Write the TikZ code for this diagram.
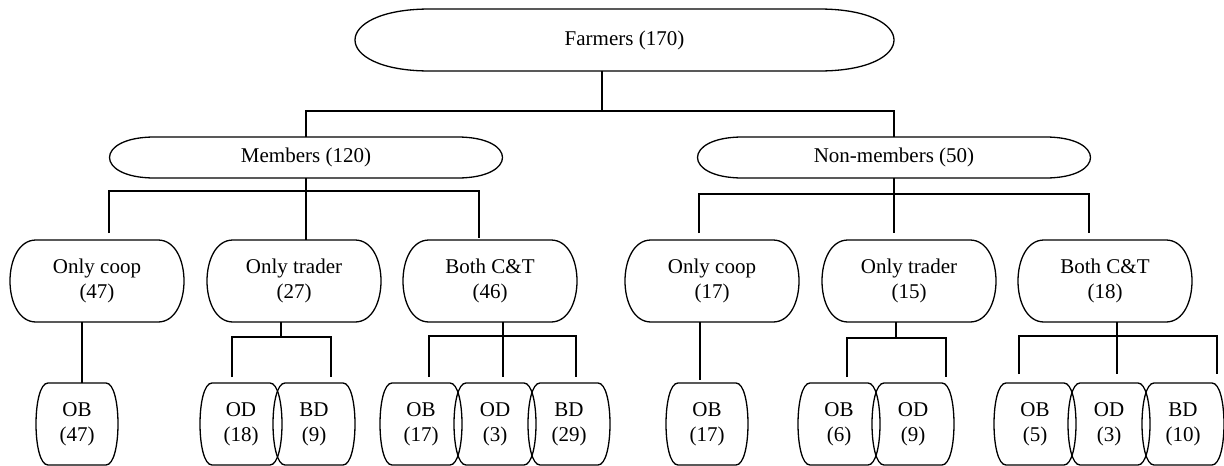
\documentclass[tikz,border=0pt]{standalone}
\usepackage{fontspec}
\setmainfont{Liberation Serif}

% outline with flat top and bottom and bulging ends
\newcommand\rim[2]{%
  \draw ([xshift=#2]#1.north west) -- ([xshift=-#2]#1.north east)
    .. controls ([xshift=#2/3]#1.north east) and ([xshift=#2/3]#1.south east) .. ([xshift=-#2]#1.south east)
    -- ([xshift=#2]#1.south west)
    .. controls ([xshift=-#2/3]#1.south west) and ([xshift=-#2/3]#1.north west) .. cycle;}

\tikzset{
  every node/.style={inner sep=0pt, outer sep=0pt, align=center,
    font=\fontsize{21}{25}\selectfont},
  rootbox/.style={minimum width=539pt, minimum height=62pt},
  groupbox/.style={minimum width=393pt, minimum height=41pt},
  choicebox/.style={minimum width=174pt, minimum height=82pt},
  leafbox/.style={minimum width=82pt, minimum height=82pt}
}

\begin{document}
\begin{tikzpicture}[x=1pt, y=-1pt, line width=1.3pt]
  \useasboundingbox (0,0) rectangle (1224,466);

  % Root and the two groups
  \node[rootbox] (farm) at (624.5,40) {Farmers (170)};
  \node[groupbox] (mem) at (306,157.5) {Members (120)};
  \node[groupbox] (non) at (894,157.5) {Non-members (50)};

  % Channels
  \node[choicebox] (oc1) at (97,281) {Only coop\\(47)};
  \node[choicebox] (ot1) at (294,281) {Only trader\\(27)};
  \node[choicebox] (bc1) at (490,281) {Both C\&T\\(46)};
  \node[choicebox] (oc2) at (712,281) {Only coop\\(17)};
  \node[choicebox] (ot2) at (909,281) {Only trader\\(15)};
  \node[choicebox] (bc2) at (1105,281) {Both C\&T\\(18)};

  % Buyers
  \node[leafbox] (ob1) at (77,424) {OB\\(47)};
  \node[leafbox] (od1) at (241,424) {OD\\(18)};
  \node[leafbox] (bd1) at (314,424) {BD\\(9)};
  \node[leafbox] (ob2) at (421,424) {OB\\(17)};
  \node[leafbox] (od2) at (495,424) {OD\\(3)};
  \node[leafbox] (bd2) at (569,424) {BD\\(29)};
  \node[leafbox] (ob3) at (707,424) {OB\\(17)};
  \node[leafbox] (ob4) at (839,424) {OB\\(6)};
  \node[leafbox] (od4) at (913,424) {OD\\(9)};
  \node[leafbox] (ob5) at (1035,424) {OB\\(5)};
  \node[leafbox] (od5) at (1109,424) {OD\\(3)};
  \node[leafbox] (bd5) at (1183,424) {BD\\(10)};

  % Outlines
  \rim{farm}{75pt}
  \rim{mem}{45pt}
  \rim{non}{45pt}
  \foreach \n in {oc1,ot1,bc1,oc2,ot2,bc2} {\rim{\n}{26pt}}
  \foreach \n in {ob1,od1,bd1,ob2,od2,bd2,ob3,ob4,od4,ob5,od5,bd5} {\rim{\n}{12pt}}

  % Farmers split
  \coordinate (fj) at (602,111);
  \draw (fj |- farm.south) -- (fj);
  \draw (mem.north) |- (fj) -| (non.north);

  % Members split
  \coordinate (mbar) at (306,191);
  \draw (mem.south) -- (mem.south |- ot1.north);
  \draw[shorten <=7pt, shorten >=2pt] ([xshift=12pt]oc1.north) |- (mbar) -| ([xshift=-11pt]bc1.north);

  % Non-members split
  \coordinate (nbar) at (894,194);
  \draw[shorten >=7pt] (non.south) -- (non.south |- ot2.north);
  \draw[shorten <=7pt, shorten >=7pt] ([xshift=-13pt]oc2.north) |- (nbar) -| ([xshift=-16pt]bc2.north);

  % Members buyers
  \draw ([xshift=-15pt]oc1.south) -- ([xshift=5pt]ob1.north);
  \coordinate (t1bar) at (281,337);
  \draw (ot1.south -| t1bar) -- (t1bar);
  \draw[shorten <=6pt, shorten >=6pt] ([xshift=-9pt]od1.north) |- (t1bar) -| ([xshift=17pt]bd1.north);
  \coordinate (b1bar) at (503,336);
  \draw[shorten >=6pt] (bc1.south -| b1bar) -- (b1bar |- od2.north);
  \draw[shorten <=6pt, shorten >=6pt] ([xshift=8pt]ob2.north) |- (b1bar) -| ([xshift=7pt]bd2.north);

  % Non-members buyers
  \draw[shorten >=3pt] ([xshift=-12pt]oc2.south) -- ([xshift=-7pt]ob3.north);
  \coordinate (t2bar) at (896,338);
  \draw (ot2.south -| t2bar) -- (t2bar);
  \draw[shorten <=6pt, shorten >=6pt] ([xshift=8pt]ob4.north) |- (t2bar) -| ([xshift=33pt]od4.north);
  \coordinate (b2bar) at (1117,336);
  \draw[shorten >=9pt] (bc2.south -| b2bar) -- (b2bar |- od5.north);
  \draw[shorten <=9pt, shorten >=9pt] ([xshift=-16pt]ob5.north) |- (b2bar) -| ([xshift=34pt]bd5.north);
\end{tikzpicture}
\end{document}
